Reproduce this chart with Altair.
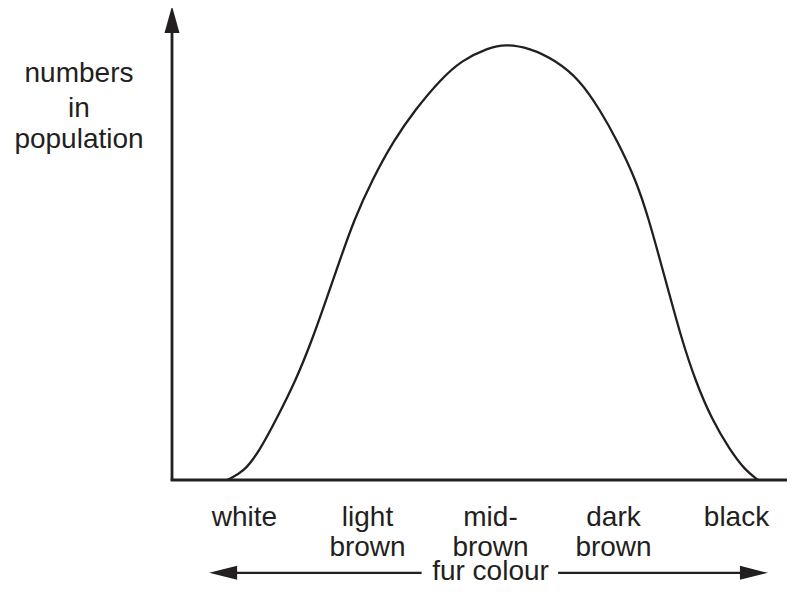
import altair as alt
import pandas as pd

# ---- data ----
# fur colour position (white=0 ... black=4) and relative numbers in population (peak = 100)
curve_pos = [-0.142, -0.004, 0.126, 0.256, 0.419, 0.549, 0.663, 0.776, 0.890, 1.037,
             1.215, 1.386, 1.589, 1.768, 1.980, 2.118, 2.321, 2.524, 2.728, 2.890,
             3.028, 3.183, 3.289, 3.378, 3.467, 3.557, 3.663, 3.801, 3.947, 4.069, 4.175]
curve_num = [0.0, 1.83, 6.88, 13.76, 22.94, 32.11, 41.28, 50.46, 59.63, 68.81,
             77.98, 84.86, 91.74, 96.33, 99.08, 100.0, 99.08, 96.33, 91.74, 84.86,
             77.98, 68.81, 59.63, 50.46, 41.28, 32.11, 22.94, 13.76, 6.88, 2.29, 0.0]

categories = ["white", "light\nbrown", "mid-\nbrown", "dark\nbrown", "black"]
category_pos = [0, 1, 2, 3, 4]

y_title_lines = ["numbers", "in", "population"]
x_title = "fur colour"

# ---- styling ----
INK = "#231f20"
FONT = "Liberation Sans"
FS = 28
W, H = 780, 580

xs = alt.Scale(domain=[-1.9228, 4.4187], nice=False, zero=False)
ys = alt.Scale(domain=[-24.77, 108.257], nice=False, zero=False)


def X(f):
    return alt.X(f"{f}:Q", scale=xs, axis=None)


def Y(f):
    return alt.Y(f"{f}:Q", scale=ys, axis=None)


curve_df = pd.DataFrame({"pos": curve_pos, "num": curve_num})
curve = alt.Chart(curve_df).mark_line(
    color=INK, strokeWidth=2.3, interpolate="basis"
).encode(x=X("pos"), y=Y("num"))

# axes (drawn as rules)
y_axis = alt.Chart(pd.DataFrame({"x": [-0.5894], "y": [-0.2], "y2": [102.5]})).mark_rule(
    color=INK, strokeWidth=2.8
).encode(x=X("x"), y=Y("y"), y2="y2:Q")

x_axis = alt.Chart(pd.DataFrame({"x": [-0.60], "x2": [4.41], "y": [0.0]})).mark_rule(
    color=INK, strokeWidth=2.8
).encode(x=X("x"), x2="x2:Q", y=Y("y"))

up_arrow = alt.Chart(pd.DataFrame({"x": [-0.5894], "y": [105.6]})).mark_point(
    shape="M0,-1L0.556,1L-0.556,1Z", size=729, filled=True, color=INK, opacity=1,
    strokeWidth=0
).encode(x=X("x"), y=Y("y"))

# category labels
cat_df = pd.DataFrame({"pos": category_pos, "label": categories, "y": [-10.6] * 5})
cat_text = alt.Chart(cat_df).mark_text(
    font=FONT, fontSize=FS, color=INK, align="center", baseline="alphabetic",
    lineBreak="\n", lineHeight=30
).encode(x=X("pos"), y=Y("y"), text="label:N")

# y title (three lines)
yt_df = pd.DataFrame({"x": [-1.3455] * 3, "y": [91.28, 83.26, 76.15], "t": y_title_lines})
y_title = alt.Chart(yt_df).mark_text(
    font=FONT, fontSize=FS, color=INK, align="center", baseline="alphabetic"
).encode(x=X("x"), y=Y("y"), text="t:N")

# x title with double arrow
xt = alt.Chart(pd.DataFrame({"x": [2.0], "y": [-23.0], "t": [x_title]})).mark_text(
    font=FONT, fontSize=FS, color=INK, align="center", baseline="alphabetic"
).encode(x=X("x"), y=Y("y"), text="t:N")

arrow_lines = alt.Chart(pd.DataFrame({"x": [-0.10, 2.55], "x2": [1.44, 4.10],
                                      "y": [-21.3, -21.3]})).mark_rule(
    color=INK, strokeWidth=2.2
).encode(x=X("x"), x2="x2:Q", y=Y("y"))

left_head = alt.Chart(pd.DataFrame({"x": [-0.174], "y": [-21.3]})).mark_point(
    shape="M-1,0L1,-0.5L1,0.5Z", size=784, filled=True, color=INK, opacity=1,
    strokeWidth=0
).encode(x=X("x"), y=Y("y"))

right_head = alt.Chart(pd.DataFrame({"x": [4.142], "y": [-21.3]})).mark_point(
    shape="M1,0L-1,-0.5L-1,0.5Z", size=784, filled=True, color=INK, opacity=1,
    strokeWidth=0
).encode(x=X("x"), y=Y("y"))

chart = alt.layer(
    x_axis, y_axis, up_arrow, curve, cat_text, y_title, arrow_lines, left_head,
    right_head, xt
).properties(
    width=W, height=H, padding=0, autosize=alt.AutoSizeParams(type="none"),
    background="white"
).configure_view(stroke=None)

chart.save("out.html", embed_options={"renderer": "svg", "actions": False})
